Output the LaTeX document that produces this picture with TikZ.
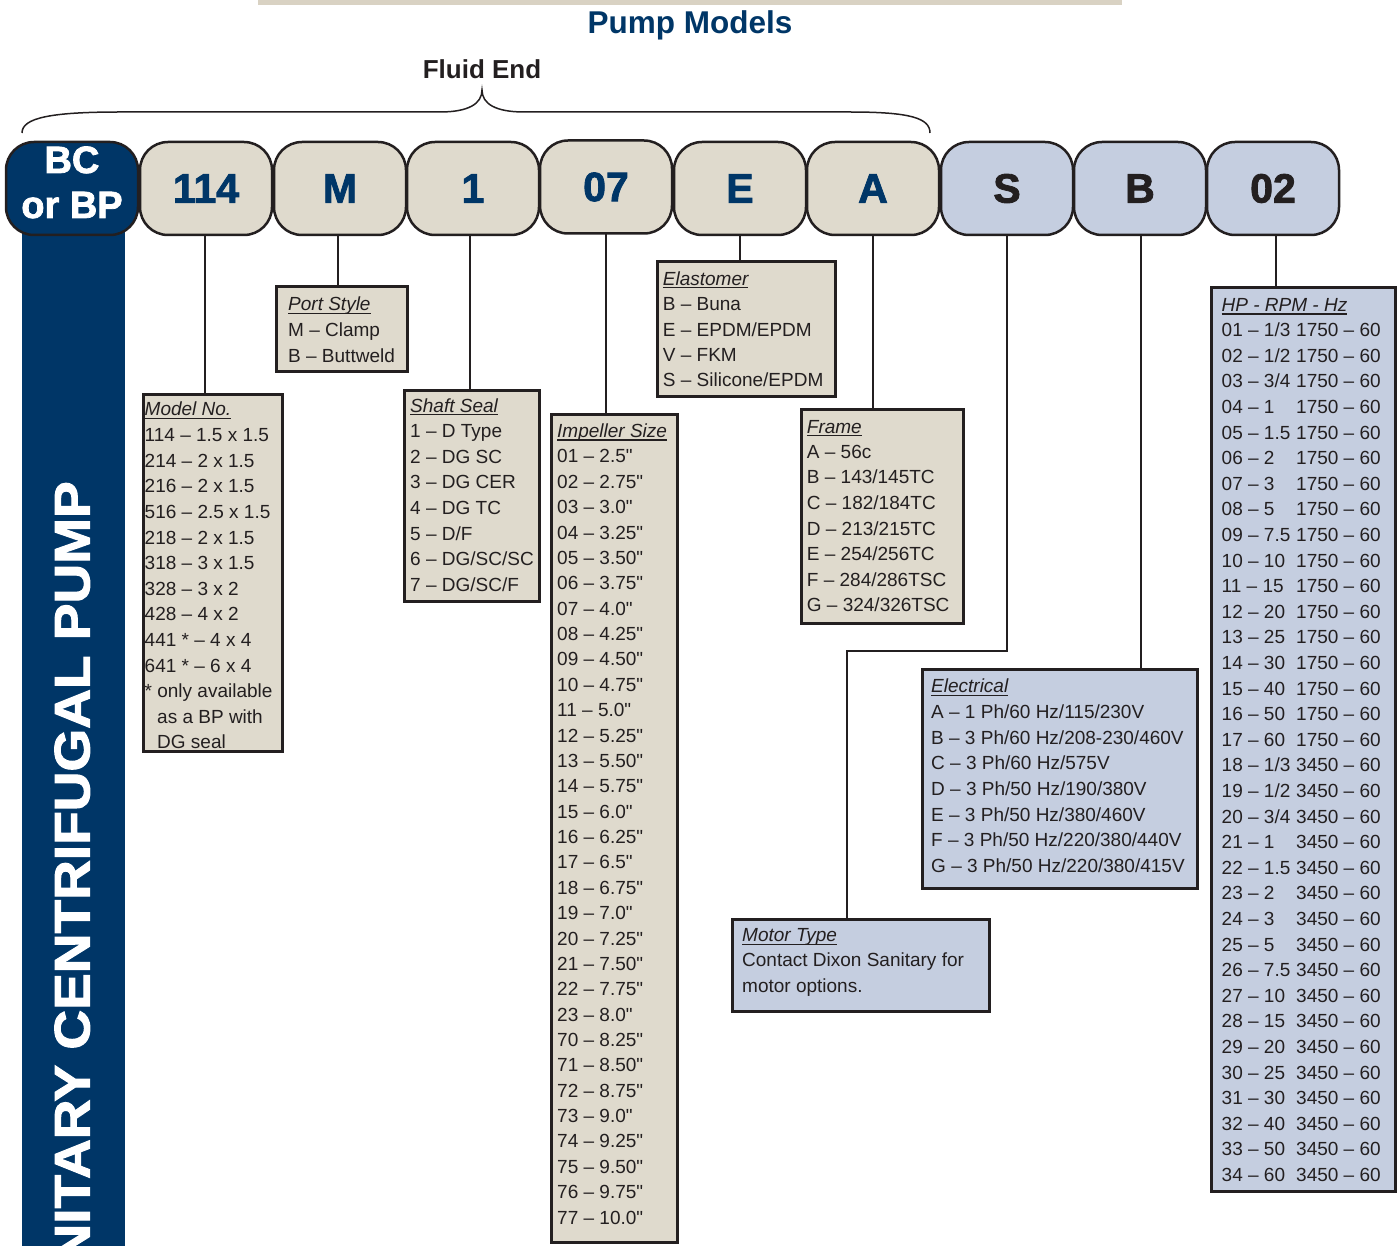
\documentclass[tikz,border=0pt]{standalone}
\usepackage{fontspec}
\setmainfont{Liberation Sans}[Ligatures=TeXOff]
\newfontfamily\heavyfont{Liberation Sans}[UprightFont={* Bold}, FakeBold=2]
\usetikzlibrary{calc}
\definecolor{navy}{RGB}{0,54,103}
\definecolor{beige}{RGB}{223,218,205}
\definecolor{paleblue}{RGB}{197,206,224}
\definecolor{barbeige}{RGB}{217,210,195}
\definecolor{ink}{RGB}{35,31,32}
\newcommand\hdrul[1]{\setbox0\hbox{\itshape #1}\rlap{\rule[-3pt]{\wd0}{1.2pt}}\box0}
\begin{document}
\begin{tikzpicture}[x=1pt,y=-1pt,
  codebox/.style={draw=ink, line width=2.5pt, rounded corners=28pt, minimum width=132pt, minimum height=93pt, inner sep=0pt, font=\fontsize{41}{41}\heavyfont, text=navy, fill=beige},
  bluecode/.style={codebox, fill=paleblue, text=ink},
  bctext/.style={anchor=base, inner sep=0pt, text=white, font=\fontsize{38}{38}\heavyfont},
  tblbox/.style={draw=ink, line width=3pt, fill=beige, inner sep=0pt, anchor=north west},
  bluetbl/.style={tblbox, fill=paleblue},
  txt/.style={anchor=base west, inner sep=0pt, text=ink, font=\fontsize{19}{22}\selectfont},
  conn/.style={draw=ink, line width=2pt}]
\useasboundingbox (0,0) rectangle (1398,1246);

% top bar and titles
\fill[barbeige] (258,0) rectangle (1122,5);
\node[anchor=base, inner sep=0pt, text=navy, font=\fontsize{31.5}{31.5}\selectfont\bfseries] (title) at (690,34) {Pump Models};
\node[anchor=base, inner sep=0pt, text=ink, font=\fontsize{26}{26}\selectfont\bfseries] (fluid) at (482,79) {Fluid End};
\draw[ink, line width=1.5pt] (22,133) .. controls (22,118) and (50,112) .. (120,112) -- (440,112) .. controls (468,112) and (482,104) .. (482,90) .. controls (482,104) and (496,112) .. (524,112) -- (850,112) .. controls (910,112) and (930,118) .. (930,133);

% left vertical bar
\fill[navy] (22,200) rectangle (125,1246);
\begin{scope}
\clip (22,236) rectangle (125,1246);
\node[rotate=90, anchor=base east, inner sep=0pt, text=white, font=\fontsize{50}{50}\heavyfont] (vert) at (89.5,481) {\scalebox{1.1}[1]{SANITARY CENTRIFUGAL PUMP}};
\end{scope}

% code boxes
\node[codebox, fill=navy] (cBC) at (72,188.5) {};
\node[bctext] (bc1) at (72,173) {BC};
\node[bctext] (bc2) at (72,218) {or BP};
\node[codebox] (c114) at (206,188.5) {114};
\node[codebox] (cM) at (340,188.5) {M};
\node[codebox] (c1) at (473,188.5) {1};
\node[codebox] (c07) at (606,187) {07};
\node[codebox] (cE) at (740,188.5) {E};
\node[codebox] (cA) at (873,188.5) {A};
\node[bluecode] (cS) at (1007,188.5) {S};
\node[bluecode] (cB) at (1140,188.5) {B};
\node[bluecode] (c02) at (1273,188.5) {02};

% table boxes
\node[tblbox, minimum width=139pt, minimum height=357pt] (model) at (142,393) {};
\node[tblbox, minimum width=131pt, minimum height=85pt] (port) at (275,285.5) {};
\node[tblbox, minimum width=135pt, minimum height=211pt] (shaft) at (403,389) {};
\node[tblbox, minimum width=126pt, minimum height=828pt] (imp) at (550,413) {};
\node[tblbox, minimum width=178pt, minimum height=135pt] (elast) at (656,260) {};
\node[tblbox, minimum width=162pt, minimum height=214pt] (frame) at (800,408) {};
\node[bluetbl, minimum width=275.5pt, minimum height=219pt] (elec) at (920.5,667.5) {};
\node[bluetbl, minimum width=257pt, minimum height=92pt] (motor) at (731,918) {};
\node[bluetbl, minimum width=184pt, minimum height=904pt] (hp) at (1210,286) {};

% connector start points on the code boxes
\coordinate (k114) at (205,235);
\coordinate (kM) at (338,235);
\coordinate (k1) at (470,235);
\coordinate (k07) at (606,233);
\coordinate (kE) at (740,235);
\coordinate (kA) at (873,235);
\coordinate (kS) at (1007,235);
\coordinate (kB) at (1141,235);
\coordinate (k02) at (1276,235);
\coordinate (sbend) at (847,650.5);

% connectors
\draw[conn] (k114) -- (k114 |- model.north);
\draw[conn] (kM) -- (kM |- port.north);
\draw[conn] (k1) -- (k1 |- shaft.north);
\draw[conn] (k07) -- (k07 |- imp.north);
\draw[conn] (kE) -- (kE |- elast.north);
\draw[conn] (kA) -- (kA |- frame.north);
\draw[conn] (kS) |- (sbend) -- (sbend |- motor.north);
\draw[conn] (kB) -- (kB |- elec.north);
\draw[conn] (k02) -- (k02 |- hp.north);

% table texts
\node[txt] (modelh) at (144.5,416) {\hdrul{Model No.}};
\foreach \t [count=\i from 0] in {114 – 1.5 x 1.5, 214 – 2 x 1.5, 216 – 2 x 1.5, 516 – 2.5 x 1.5, 218 – 2 x 1.5, 318 – 3 x 1.5, 328 – 3 x 2, 428 – 4 x 2, 441 * – 4 x 4, 641 * – 6 x 4, * only available, \hspace{12.5pt}as a BP with, \hspace{12.5pt}DG seal}
  \node[txt] (model-\i) at (144.5,{441.7+25.6*\i}) {\t};

\node[txt] (porth) at (288,311) {\hdrul{Port Style}};
\foreach \t [count=\i from 0] in {M – Clamp, B – Buttweld}
  \node[txt] (port-\i) at (288,{336.5+25.6*\i}) {\t};

\node[txt] (shafth) at (410,412.3) {\hdrul{Shaft Seal}};
\foreach \t [count=\i from 0] in {1 – D Type, 2 – DG SC, 3 – DG CER, 4 – DG TC, 5 – D/F, 6 – DG/SC/SC, 7 – DG/SC/F}
  \node[txt] (shaft-\i) at (410,{437.7+25.6*\i}) {\t};

\node[txt] (imph) at (557,437.7) {\hdrul{Impeller Size}};
\foreach \t [count=\i from 0] in {01 – 2.5", 02 – 2.75", 03 – 3.0", 04 – 3.25", 05 – 3.50", 06 – 3.75", 07 – 4.0", 08 – 4.25", 09 – 4.50", 10 – 4.75", 11 – 5.0", 12 – 5.25", 13 – 5.50", 14 – 5.75", 15 – 6.0", 16 – 6.25", 17 – 6.5", 18 – 6.75", 19 – 7.0", 20 – 7.25", 21 – 7.50", 22 – 7.75", 23 – 8.0", 70 – 8.25", 71 – 8.50", 72 – 8.75", 73 – 9.0", 74 – 9.25", 75 – 9.50", 76 – 9.75", 77 – 10.0"}
  \node[txt] (imp-\i) at (557,{463+25.37*\i}) {\t};

\node[txt] (elasth) at (662.7,285.5) {\hdrul{Elastomer}};
\foreach \t [count=\i from 0] in {B – Buna, E – EPDM/EPDM, V – FKM, S – Silicone/EPDM}
  \node[txt] (elast-\i) at (662.7,{310.8+25.4*\i}) {\t};

\node[txt] (frameh) at (806.7,433.3) {\hdrul{Frame}};
\foreach \t [count=\i from 0] in {A – 56c, B – 143/145TC, C – 182/184TC, D – 213/215TC, E – 254/256TC, F – 284/286TSC, G – 324/326TSC}
  \node[txt] (frame-\i) at (806.7,{458.3+25.6*\i}) {\t};

\node[txt] (elech) at (931,692.7) {\hdrul{Electrical}};
\foreach \t [count=\i from 0] in {A – 1 Ph/60 Hz/115/230V, B – 3 Ph/60 Hz/208-230/460V, C – 3 Ph/60 Hz/575V, D – 3 Ph/50 Hz/190/380V, E – 3 Ph/50 Hz/380/460V, F – 3 Ph/50 Hz/220/380/440V, G – 3 Ph/50 Hz/220/380/415V}
  \node[txt] (elec-\i) at (931,{718.7+25.6*\i}) {\t};

\node[txt] (motorh) at (742,941.7) {\hdrul{Motor Type}};
\foreach \t [count=\i from 0] in {Contact Dixon Sanitary for, motor options.}
  \node[txt] (motor-\i) at (742,{966.7+25.6*\i}) {\t};

\node[txt] (hph) at (1221.5,311.7) {\hdrul{HP - RPM - Hz}};
\foreach \t [count=\i from 0] in {01 – 1/3, 02 – 1/2, 03 – 3/4, 04 – 1, 05 – 1.5, 06 – 2, 07 – 3, 08 – 5, 09 – 7.5, 10 – 10, 11 – 15, 12 – 20, 13 – 25, 14 – 30, 15 – 40, 16 – 50, 17 – 60, 18 – 1/3, 19 – 1/2, 20 – 3/4, 21 – 1, 22 – 1.5, 23 – 2, 24 – 3, 25 – 5, 26 – 7.5, 27 – 10, 28 – 15, 29 – 20, 30 – 25, 31 – 30, 32 – 40, 33 – 50, 34 – 60}{
  \node[txt] (hpa-\i) at (1221.5,{336.7+25.6*\i}) {\t};
  \node[txt] (hpb-\i) at (1296,{336.7+25.6*\i}) {\ifnum\i<17 1750\else 3450\fi{} – 60};
}
\end{tikzpicture}
\end{document}
